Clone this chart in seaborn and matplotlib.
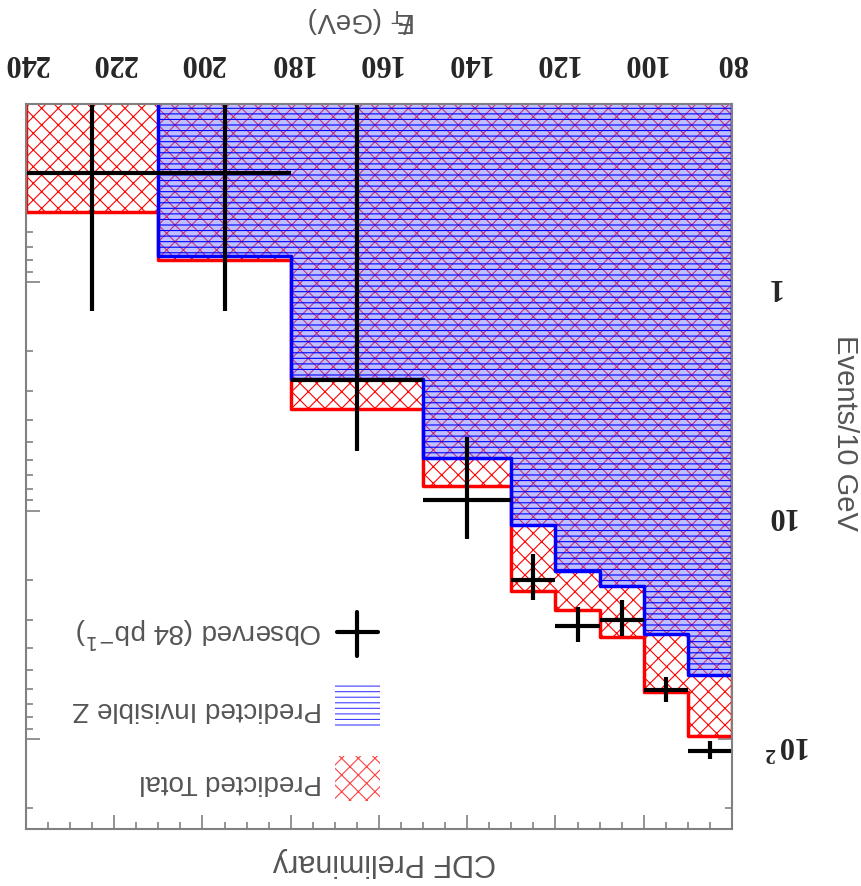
import numpy as np
import pandas as pd
import matplotlib
matplotlib.use("Agg")
import matplotlib.pyplot as plt
import seaborn as sns
from matplotlib.ticker import MultipleLocator, LogLocator, FixedLocator
from matplotlib.patches import Rectangle
from matplotlib.lines import Line2D

bin_edges = [80, 90, 100, 110, 120, 130, 150, 180, 210, 240]
predicted_total = [96.6, 62.1, 35.7, 27.2, 22.4, 7.79, 3.59, 0.798, 0.492]
predicted_invisible_z = [52.3, 34.6, 21.3, 18.3, 11.5, 5.87, 2.65, 0.767, 0.0]
observed = [112.0, 61.0, 30.0, 32.0, 20.0, 9.0, 2.67, 0.333, 0.333]
observed_err = [10.6, 7.8, 5.5, 5.7, 4.5, 4.24, 2.83, 1.0, 1.0]

x_ticks = [80, 100, 120, 140, 160, 180, 200, 220, 240]
y_ticks = [1, 10, 100]
y_ticklabels = ["1", "10", r"$\mathregular{10^{\,2}}$"]

edges = np.array(bin_edges)
centers = (edges[:-1] + edges[1:]) / 2
half_w = (edges[1:] - edges[:-1]) / 2
df = pd.DataFrame({"met": centers, "total": predicted_total, "z": predicted_invisible_z})

sns.set_style("white")
plt.rcParams["font.family"] = ["Liberation Sans", "DejaVu Sans"]
plt.rcParams["hatch.linewidth"] = 0.8

W, H = 861, 887
fig = plt.figure(figsize=(W / 100, H / 100), dpi=100)


def px(x, y):
    return x / W, 1 - y / H


ax = fig.add_axes([26 / W, 1 - 830 / H, (732 - 26) / W, (830 - 105) / H])
ax.set_yscale("log")

# predicted total: red cross-hatch
sns.histplot(data=df, x="met", weights="total", bins=bin_edges, element="step",
             fill=True, facecolor="white", edgecolor="red", hatch="xx",
             linewidth=2.5, ax=ax, zorder=1)
# predicted invisible Z: blue on top
sns.histplot(data=df, x="met", weights="z", bins=bin_edges, element="step",
             fill=True, facecolor=(0.45, 0.45, 1.0, 0.45), edgecolor="blue", hatch="---",
             linewidth=2.5, ax=ax, zorder=2)

# observed data (lower ends below the axis get clipped)
ax.errorbar(centers, observed, xerr=half_w, yerr=[observed_err, observed_err],
            fmt="none", ecolor="black", elinewidth=3, capsize=0, zorder=4)

ax.set_xlim(240, 80)
ax.set_ylim(247, 0.166)
ax.set_xlabel("")
ax.set_ylabel("")

ax.xaxis.set_major_locator(FixedLocator(x_ticks))
ax.xaxis.set_minor_locator(MultipleLocator(5))
ax.yaxis.set_major_locator(FixedLocator(y_ticks))
ax.yaxis.set_minor_locator(LogLocator(base=10, subs=np.arange(2, 10)))
ax.set_yticks(y_ticks)
ax.set_yticklabels(y_ticklabels)
ax.yaxis.set_minor_formatter(plt.NullFormatter())

ax.tick_params(which="both", direction="in", top=True, bottom=True, left=True, right=True,
               labeltop=True, labelbottom=False, labelright=True, labelleft=False,
               color="#808080", width=1.2, labelrotation=180)
ax.tick_params(which="major", length=10)
ax.tick_params(which="minor", length=5)
ax.tick_params(axis="x", pad=20)
ax.tick_params(axis="y", pad=24)
for lab in ax.get_xticklabels() + ax.get_yticklabels():
    lab.set_fontfamily("Liberation Serif")
    lab.set_fontsize(22)
    lab.set_fontweight("bold")

for s in ax.spines.values():
    s.set_color("#808080")
    s.set_linewidth(1.5)
    s.set_zorder(5)

# axis titles (upside down like the reference)
gray = "#555555"
fig.text(*px(362, 20), r"$\mathregular{E\!\!\!/_{T}}$ (GeV)", rotation=180,
         ha="center", va="center", fontsize=20, color=gray)
fig.text(*px(845, 433), "Events/10 GeV", rotation=270,
         ha="center", va="center", fontsize=21, color=gray)
fig.text(*px(384, 862), "CDF Preliminary", rotation=180,
         ha="center", va="center", fontsize=22, color=gray)

# legend, drawn by hand so it reads upside down
fig.text(*px(322, 633), r"Observed (84 pb$^{-1}$)", rotation=180,
         ha="right", va="center", fontsize=20, color=gray)
fig.text(*px(322, 709), "Predicted Invisible Z", rotation=180,
         ha="right", va="center", fontsize=20, color=gray)
fig.text(*px(322, 782), "Predicted Total", rotation=180,
         ha="right", va="center", fontsize=20, color=gray)

x0, y0 = px(335, 802)
x1, y1 = px(380, 757)
fig.add_artist(Rectangle((x0, y0), x1 - x0, y1 - y0, transform=fig.transFigure,
                         facecolor="white", edgecolor="#ff4040", hatch="xx", linewidth=0))
x0, y0 = px(335, 730)
x1, y1 = px(380, 685)
fig.add_artist(Rectangle((x0, y0), x1 - x0, y1 - y0, transform=fig.transFigure,
                         facecolor="white", edgecolor="#4040ff", hatch="---", linewidth=0))
a, b = px(337, 633)
c, d = px(378, 633)
fig.add_artist(Line2D([a, c], [b, d], transform=fig.transFigure, color="black", lw=3))
a, b = px(357, 613)
c, d = px(357, 657)
fig.add_artist(Line2D([a, c], [b, d], transform=fig.transFigure, color="black", lw=3))

fig.savefig("out.png", dpi=100)
